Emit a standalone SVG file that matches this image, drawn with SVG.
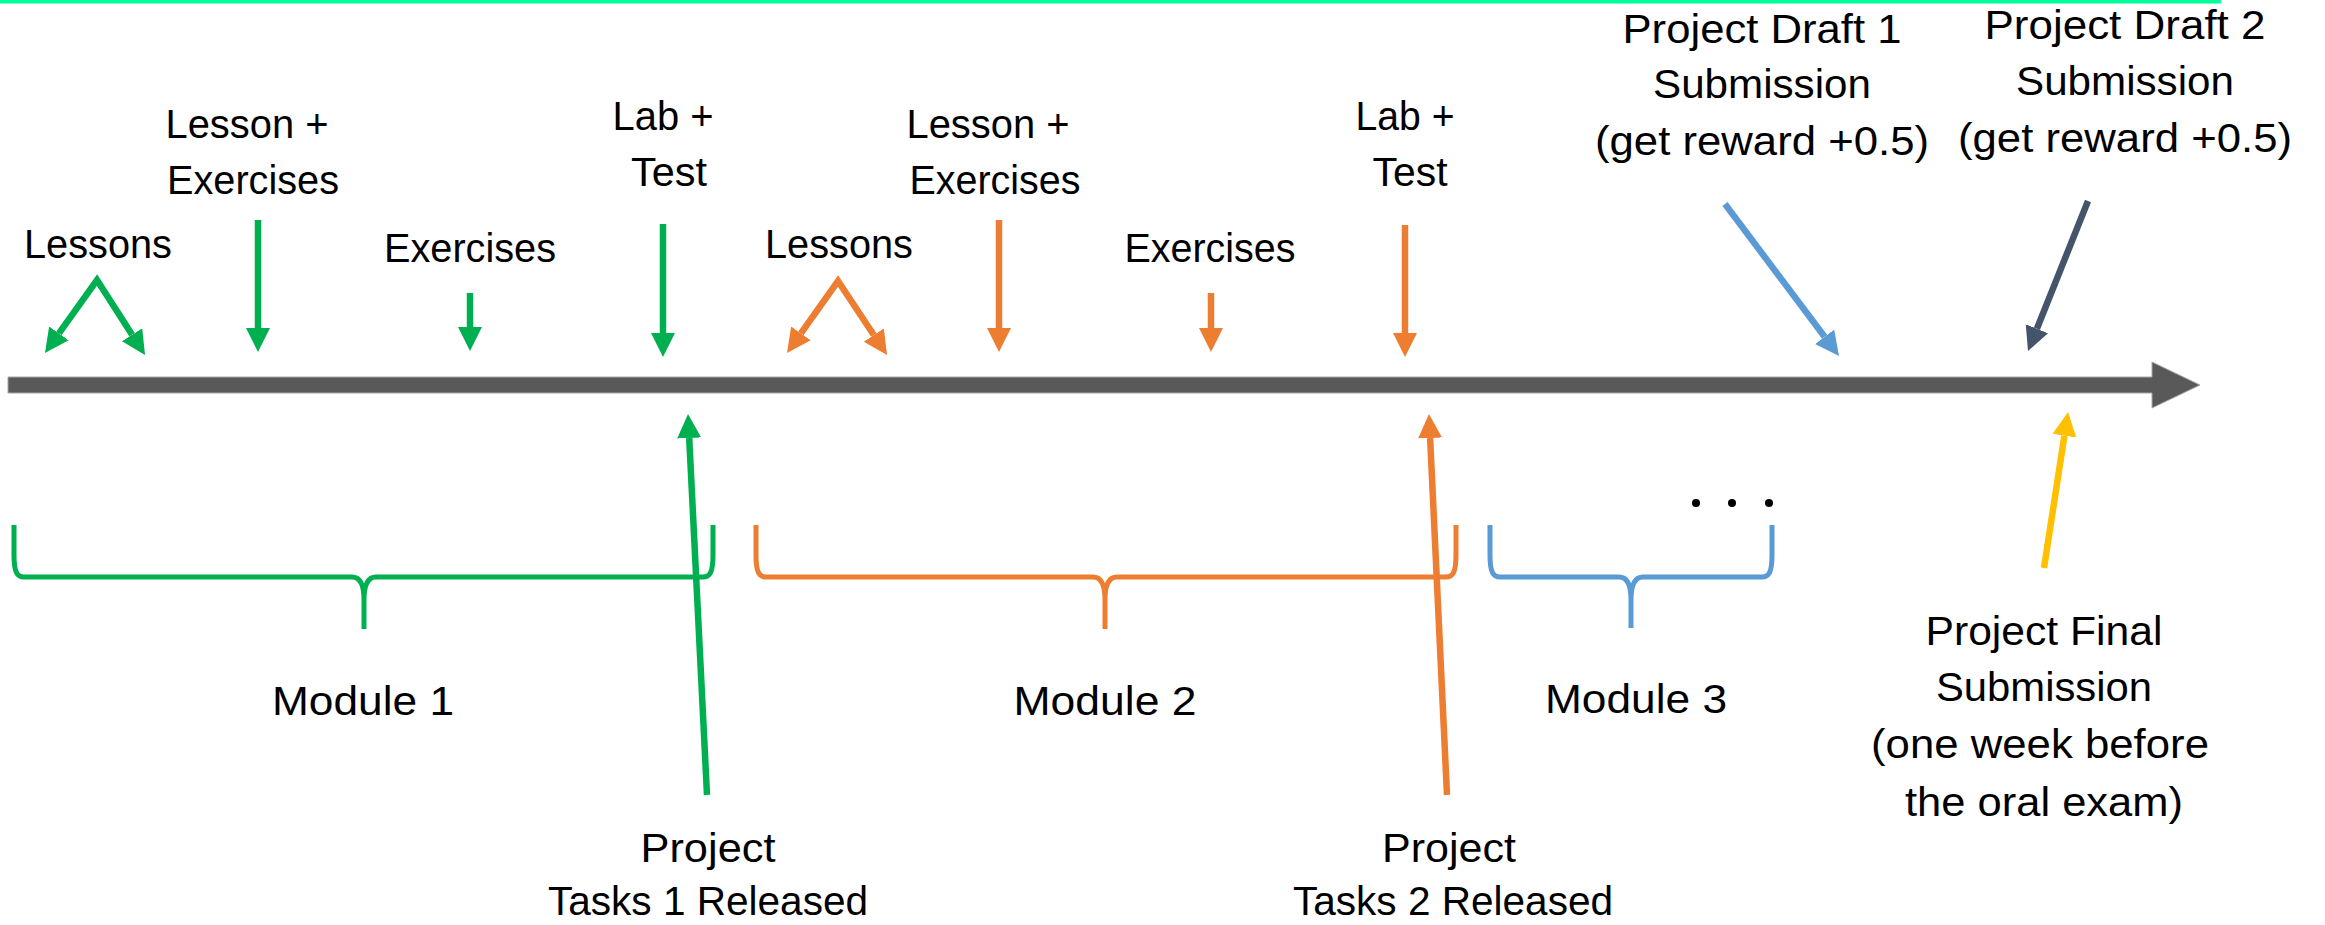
<svg xmlns="http://www.w3.org/2000/svg" width="2325" height="925" viewBox="0 0 2325 925">
<style>
text{font-family:"Liberation Sans",Arial,sans-serif;font-size:41px;fill:#000;text-anchor:middle}
.br{fill:none;stroke-width:5;stroke-linejoin:round}
.ar{fill:none;stroke-width:6.5;stroke-linejoin:miter}
.g{stroke:#00B050}.o{stroke:#ED7D31}.b{stroke:#5B9BD5}.d{stroke:#44546A}.y{stroke:#FFC000}
</style>
<defs>
<marker id="mg" markerUnits="userSpaceOnUse" markerWidth="26" markerHeight="26" refX="0" refY="12" orient="auto-start-reverse"><path d="M0,0 L24,12 L0,24 Z" fill="#00B050"/></marker>
<marker id="mo" markerUnits="userSpaceOnUse" markerWidth="26" markerHeight="26" refX="0" refY="12" orient="auto-start-reverse"><path d="M0,0 L24,12 L0,24 Z" fill="#ED7D31"/></marker>
<marker id="mb" markerUnits="userSpaceOnUse" markerWidth="26" markerHeight="26" refX="0" refY="12" orient="auto"><path d="M0,0 L24,12 L0,24 Z" fill="#5B9BD5"/></marker>
<marker id="md" markerUnits="userSpaceOnUse" markerWidth="26" markerHeight="26" refX="0" refY="12" orient="auto"><path d="M0,0 L24,12 L0,24 Z" fill="#44546A"/></marker>
<marker id="my" markerUnits="userSpaceOnUse" markerWidth="26" markerHeight="26" refX="0" refY="12" orient="auto"><path d="M0,0 L24,12 L0,24 Z" fill="#FFC000"/></marker>
</defs>
<rect width="2325" height="925" fill="#fff"/>
<rect id="top-line" x="0" y="0" width="2221" height="3.5" fill="#00FF99"/>

<g id="timeline">
<path d="M8,377 L2152,377 L2152,362 L2200,385 L2152,408 L2152,393 L8,393 Z" fill="#595959" stroke="#A6A6A6" stroke-width="1"/>
</g>

<g id="m1-lessons"><text x="98" y="258" textLength="148" lengthAdjust="spacingAndGlyphs">Lessons</text></g>
<g id="m1-lesson-ex"><text x="247" y="138" textLength="163" lengthAdjust="spacingAndGlyphs">Lesson +</text><text x="253" y="194" textLength="172" lengthAdjust="spacingAndGlyphs">Exercises</text></g>
<g id="m1-exercises"><text x="470" y="262" textLength="172" lengthAdjust="spacingAndGlyphs">Exercises</text></g>
<g id="m1-lab"><text x="663" y="130" textLength="101" lengthAdjust="spacingAndGlyphs">Lab +</text><text x="669" y="186" textLength="76" lengthAdjust="spacingAndGlyphs">Test</text></g>

<g id="m2-lessons"><text x="839" y="258" textLength="148" lengthAdjust="spacingAndGlyphs">Lessons</text></g>
<g id="m2-lesson-ex"><text x="988" y="138" textLength="163" lengthAdjust="spacingAndGlyphs">Lesson +</text><text x="995" y="194" textLength="171" lengthAdjust="spacingAndGlyphs">Exercises</text></g>
<g id="m2-exercises"><text x="1210" y="262" textLength="171" lengthAdjust="spacingAndGlyphs">Exercises</text></g>
<g id="m2-lab"><text x="1405" y="130" textLength="99" lengthAdjust="spacingAndGlyphs">Lab +</text><text x="1410" y="186" textLength="75" lengthAdjust="spacingAndGlyphs">Test</text></g>

<g id="draft1"><text x="1762" y="43" textLength="279" lengthAdjust="spacingAndGlyphs">Project Draft 1</text><text x="1762" y="98" textLength="218" lengthAdjust="spacingAndGlyphs">Submission</text><text x="1762" y="155" textLength="334" lengthAdjust="spacingAndGlyphs">(get reward +0.5)</text></g>
<g id="draft2"><text x="2125" y="39" textLength="281" lengthAdjust="spacingAndGlyphs">Project Draft 2</text><text x="2125" y="95" textLength="218" lengthAdjust="spacingAndGlyphs">Submission</text><text x="2125" y="152" textLength="334" lengthAdjust="spacingAndGlyphs">(get reward +0.5)</text></g>

<g id="module1">
<path class="br g" d="M14,525 L14,555 C14,572 17,577 24,577 L352,577 C360,577 364,584 364,600 L364,629 M364,600 C364,584 368,577 376,577 L703,577 C710,577 713,572 713,555 L713,525"/>
<text x="363" y="715" textLength="182" lengthAdjust="spacingAndGlyphs">Module 1</text>
</g>
<g id="module2">
<path class="br o" d="M756,525 L756,555 C756,572 759,577 766,577 L1093,577 C1101,577 1105,584 1105,600 L1105,629 M1105,600 C1105,584 1109,577 1117,577 L1446,577 C1453,577 1456,572 1456,555 L1456,525"/>
<text x="1105" y="715" textLength="183" lengthAdjust="spacingAndGlyphs">Module 2</text>
</g>
<g id="module3">
<path class="br b" d="M1490,525 L1490,555 C1490,572 1493,577 1500,577 L1619,577 C1627,577 1631,584 1631,600 L1631,628 M1631,600 C1631,584 1635,577 1643,577 L1762,577 C1769,577 1772,572 1772,555 L1772,525"/>
<text x="1636" y="713" textLength="182" lengthAdjust="spacingAndGlyphs">Module 3</text>
<circle cx="1696" cy="503" r="4"/><circle cx="1732" cy="503" r="4"/><circle cx="1769" cy="503" r="4"/>
</g>

<g id="tasks1"><text x="708" y="862" textLength="135" lengthAdjust="spacingAndGlyphs">Project</text><text x="708" y="915" textLength="320" lengthAdjust="spacingAndGlyphs">Tasks 1 Released</text></g>
<g id="tasks2"><text x="1449" y="862" textLength="134" lengthAdjust="spacingAndGlyphs">Project</text><text x="1453" y="915" textLength="320" lengthAdjust="spacingAndGlyphs">Tasks 2 Released</text></g>
<g id="final"><text x="2044" y="645" textLength="237" lengthAdjust="spacingAndGlyphs">Project Final</text><text x="2044" y="701" textLength="216" lengthAdjust="spacingAndGlyphs">Submission</text><text x="2040" y="758" textLength="338" lengthAdjust="spacingAndGlyphs">(one week before</text><text x="2044" y="816" textLength="278" lengthAdjust="spacingAndGlyphs">the oral exam)</text></g>

<g id="connectors">
<path class="ar g" d="M58.9,333.4 L97,280 L132.1,334.8" marker-start="url(#mg)" marker-end="url(#mg)"/>
<path class="ar g" d="M258,220 L258,328" marker-end="url(#mg)"/>
<path class="ar g" d="M470,293 L470,327" marker-end="url(#mg)"/>
<path class="ar g" d="M663,224 L663,333" marker-end="url(#mg)"/>
<path class="ar g" d="M707,795 L689.2,438" marker-end="url(#mg)"/>
<path class="ar o" d="M800.9,333.4 L838,281 L873.8,335" marker-start="url(#mo)" marker-end="url(#mo)"/>
<path class="ar o" d="M999,220 L999,328" marker-end="url(#mo)"/>
<path class="ar o" d="M1211,293 L1211,328" marker-end="url(#mo)"/>
<path class="ar o" d="M1405,225 L1405,333" marker-end="url(#mo)"/>
<path class="ar o" d="M1447,795 L1430.1,438" marker-end="url(#mo)"/>
<path class="ar b" d="M1725,204 L1824.6,336.8" marker-end="url(#mb)"/>
<path class="ar d" d="M2088,201 L2036.9,328.7" marker-end="url(#md)"/>
<path class="ar y" d="M2044,568 L2064.4,435.7" marker-end="url(#my)"/>
</g>
</svg>
